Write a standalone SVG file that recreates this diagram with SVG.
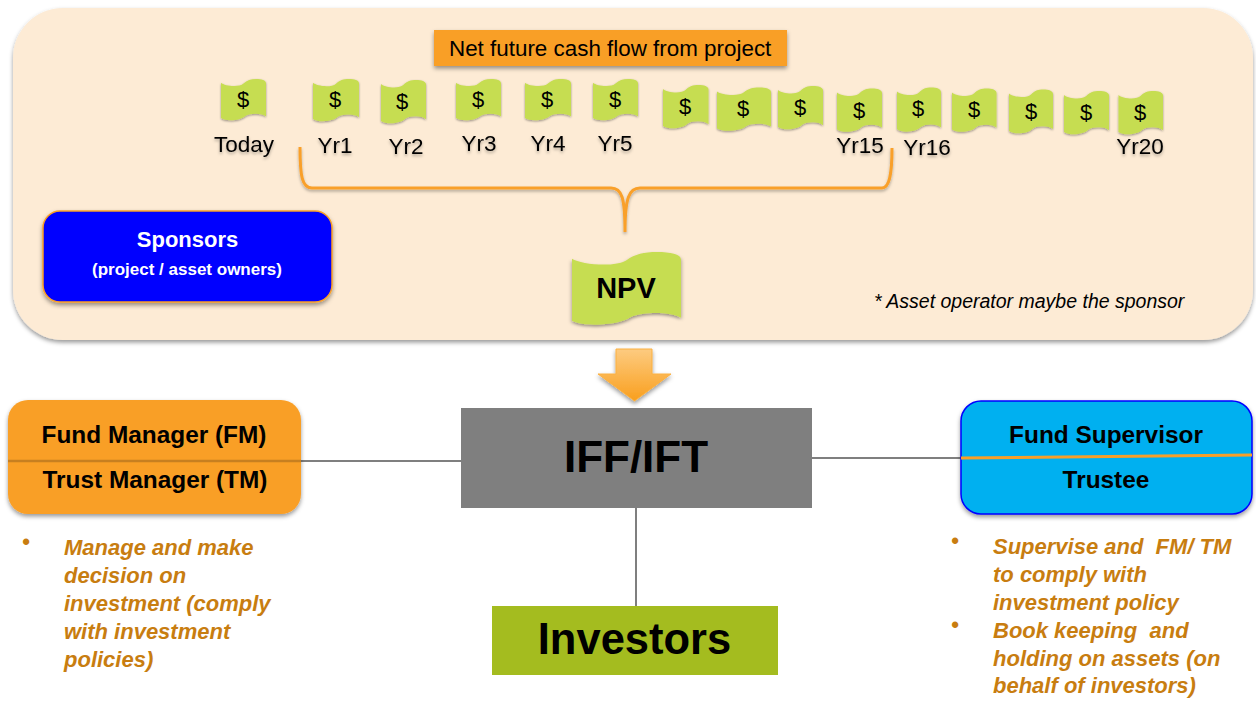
<svg xmlns="http://www.w3.org/2000/svg" width="1256" height="722" viewBox="0 0 1256 722">
<style>
text{font-family:"Liberation Sans",Arial,sans-serif;fill:#000}
.yr{font-size:22.500px;text-anchor:middle;filter:url(#ts)}
.d{font-size:22px;text-anchor:middle}
.note{fill:#c6dd51;filter:url(#sh)}
.hd{font-size:24.400px;font-weight:bold;text-anchor:middle}
.it{font-size:22px;font-weight:bold;font-style:italic;fill:#c87d10}
.conn{stroke:#7f7f7f;stroke-width:2;fill:none}
</style>
<defs>
<filter id="sh" x="-20%" y="-20%" width="140%" height="150%"><feDropShadow dx="0" dy="2.500" stdDeviation="2" flood-color="#000" flood-opacity=".4"/></filter>
<filter id="ts" x="-20%" y="-20%" width="140%" height="150%"><feDropShadow dx="0" dy="2" stdDeviation="1.500" flood-color="#000" flood-opacity=".3"/></filter>
<linearGradient id="ag" x1="0" y1="0" x2="0" y2="1"><stop offset="0" stop-color="#fdcb80"/><stop offset="1" stop-color="#f99f1e"/></linearGradient>
<path id="n" d="M0,9C8,17 40,21 50,11C58,3 66,0 78,0C90,0 100,3 100,10V89C92,81 66,80 54,88C44,99 12,102 0,93Z"/>
</defs>
<rect width="1256" height="722" fill="#fff"/>

<g id="panel"><rect x="13" y="8" width="1240" height="332" rx="50" fill="#fdebd5" filter="url(#sh)"/></g>

<g id="connectors">
<path class="conn" d="M300,461H461"/>
<path class="conn" d="M812,458H961"/>
<path class="conn" d="M636,508V606"/>
</g>

<g id="header"><rect x="434" y="30" width="353" height="36" fill="#f99f27" filter="url(#sh)"/><text x="449" y="56" font-size="22.400">Net future cash flow from project</text></g>

<g id="notes">
<use href="#n" class="note" transform="translate(221,79) scale(.45,.42)"/><text class="d" x="243" y="107">$</text>
<use href="#n" class="note" transform="translate(313,79) scale(.46,.43)"/><text class="d" x="335" y="107">$</text>
<use href="#n" class="note" transform="translate(381,80) scale(.45,.44)"/><text class="d" x="402" y="109">$</text>
<use href="#n" class="note" transform="translate(456,79) scale(.45,.42)"/><text class="d" x="478" y="107">$</text>
<use href="#n" class="note" transform="translate(525,79) scale(.46,.42)"/><text class="d" x="547" y="107">$</text>
<use href="#n" class="note" transform="translate(593,79) scale(.45,.42)"/><text class="d" x="615" y="107">$</text>
<use href="#n" class="note" transform="translate(663,85) scale(.455,.44)"/><text class="d" x="685" y="114">$</text>
<use href="#n" class="note" transform="translate(717,87.500) scale(.54,.44)"/><text class="d" x="743" y="116">$</text>
<use href="#n" class="note" transform="translate(778,86) scale(.45,.44)"/><text class="d" x="800" y="115">$</text>
<use href="#n" class="note" transform="translate(837,88.500) scale(.45,.44)"/><text class="d" x="859" y="118">$</text>
<use href="#n" class="note" transform="translate(897,87.500) scale(.44,.45)"/><text class="d" x="918" y="116">$</text>
<use href="#n" class="note" transform="translate(952,88.500) scale(.445,.44)"/><text class="d" x="974" y="117">$</text>
<use href="#n" class="note" transform="translate(1009,89.500) scale(.44,.445)"/><text class="d" x="1031" y="119">$</text>
<use href="#n" class="note" transform="translate(1064,91) scale(.45,.44)"/><text class="d" x="1086" y="120">$</text>
<use href="#n" class="note" transform="translate(1118.500,91) scale(.445,.44)"/><text class="d" x="1140" y="120">$</text>
</g>

<g id="labels">
<text class="yr" x="244" y="152">Today</text>
<text class="yr" x="335" y="153">Yr1</text>
<text class="yr" x="406" y="154">Yr2</text>
<text class="yr" x="479" y="151">Yr3</text>
<text class="yr" x="548" y="151">Yr4</text>
<text class="yr" x="615" y="151">Yr5</text>
<text class="yr" x="860" y="153">Yr15</text>
<text class="yr" x="927" y="155">Yr16</text>
<text class="yr" x="1140" y="154">Yr20</text>
</g>

<g id="brace"><path d="M300,147C300,176 302,188 312,188H611C622,188 625,198 625,232C625,198 629,188 640,188H882C889,188 892,176 892,148" fill="none" stroke="#f9a02a" stroke-width="3" filter="url(#ts)"/></g>

<g id="sponsors"><rect x="43" y="211" width="289" height="91" rx="17" fill="#0000ff" stroke="#f99f27" stroke-width="1.500" filter="url(#sh)"/>
<text x="187.500" y="246.500" font-size="22" font-weight="bold" text-anchor="middle" style="fill:#fff">Sponsors</text>
<text x="187" y="274.500" font-size="17" font-weight="bold" text-anchor="middle" style="fill:#fff">(project / asset owners)</text></g>

<g id="npv"><use href="#n" class="note" transform="translate(572,252) scale(1.09,.74)"/><text x="626" y="298" font-size="29" font-weight="bold" text-anchor="middle">NPV</text></g>

<g id="footnote"><text x="874" y="308" font-size="19.500" font-style="italic">* Asset operator maybe the sponsor</text></g>

<g id="arrow"><path d="M616,349H652V374H671L634.500,401L598,374H616Z" fill="url(#ag)" stroke="#fbb040" stroke-width="1" filter="url(#sh)"/></g>

<g id="fm"><rect x="8" y="400" width="293" height="114" rx="20" fill="#f99f27" filter="url(#sh)"/>
<path d="M8,461H301" stroke="#c77f20" stroke-width="2.500"/>
<text class="hd" x="154" y="442.500">Fund Manager (FM)</text><text class="hd" x="155" y="487.500">Trust Manager (TM)</text></g>

<g id="iff"><rect x="461" y="408" width="351" height="100" fill="#7f7f7f"/><text x="636" y="472" font-size="44" font-weight="bold" text-anchor="middle">IFF/IFT</text></g>

<g id="fs"><rect x="961" y="401" width="291" height="113" rx="20" fill="#00b0f0" stroke="#0000ff" stroke-width="1.500" filter="url(#sh)"/>
<path d="M961,458L1252,455" stroke="#f99f27" stroke-width="3"/>
<text class="hd" x="1106" y="442.500">Fund Supervisor</text><text class="hd" x="1106" y="487.500">Trustee</text></g>

<g id="investors"><rect x="492" y="606" width="286" height="69" fill="#a4bc1f"/><text x="634.500" y="654" font-size="43.500" font-weight="bold" text-anchor="middle">Investors</text></g>

<g id="fm-notes">
<text class="it" x="22" y="549">•</text>
<text class="it" x="64" y="554.500">Manage and make</text>
<text class="it" x="64" y="582.500">decision on</text>
<text class="it" x="64" y="610.500">investment (comply</text>
<text class="it" x="64" y="638.500">with investment</text>
<text class="it" x="64" y="666.500">policies)</text>
</g>
<g id="fs-notes">
<text class="it" x="951" y="548">•</text>
<text class="it" x="993" y="553.500" xml:space="preserve">Supervise and  FM/ TM</text>
<text class="it" x="993" y="581.500">to comply with</text>
<text class="it" x="993" y="609.500">investment policy</text>
<text class="it" x="951" y="632">•</text>
<text class="it" x="993" y="637.500" xml:space="preserve">Book keeping  and</text>
<text class="it" x="993" y="665.500">holding on assets (on</text>
<text class="it" x="993" y="692.500">behalf of investors)</text>
</g>
</svg>
